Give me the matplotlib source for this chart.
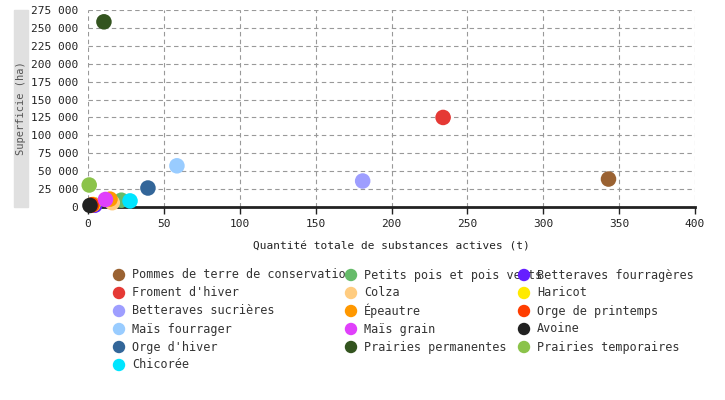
import matplotlib

matplotlib.use("Agg")
import matplotlib.pyplot as plt  # noqa: E402
from matplotlib.ticker import FuncFormatter  # noqa: E402

cultures = [
    "Pommes de terre de conservation", "Petits pois et pois verts", "Betteraves fourragères",
    "Froment d'hiver", "Colza", "Haricot",
    "Betteraves sucrières", "Épeautre", "Orge de printemps",
    "Maïs fourrager", "Maïs grain", "Avoine",
    "Orge d'hiver", "Prairies permanentes", "Prairies temporaires",
    "Chicorée",
]
substances_t = [343, 22, 4.5, 234, 16, 3.3, 181, 14.5, 2.6, 58.6, 11.5, 1.3, 39.5, 10.5, 0.8, 27.7]
superficie_ha = [39000, 9500, 2500, 125000, 6000, 3500, 36300, 11000, 3000, 57500, 10500, 2200, 26500, 258500, 30700, 8500]
couleurs = [
    "#9a6232", "#66bb6a", "#651fff",
    "#e53935", "#ffcc80", "#ffea00",
    "#9e9eff", "#ff9800", "#ff3d00",
    "#99ccff", "#e040fb", "#212121",
    "#336699", "#33541f", "#8bc34a",
    "#00e5ff",
]

W, H = 725, 400
MONO = "DejaVu Sans Mono"

fig = plt.figure(figsize=(W / 100, H / 100), dpi=100)
ax = fig.add_axes([88 / W, (H - 207) / H, (695 - 88) / W, (207 - 10) / H])

for x, y, c in zip(substances_t, superficie_ha, couleurs):
    ax.scatter(x, y, s=125, color=c, edgecolors="none", zorder=3, clip_on=False)

ax.set_xlim(0, 400)
ax.set_ylim(0, 275000)
ax.set_xticks(range(0, 401, 50))
ax.set_yticks(range(0, 275001, 25000))
ax.yaxis.set_major_formatter(FuncFormatter(lambda v, _: f"{int(v):,}".replace(",", " ")))
ax.grid(True, ls=(0, (4, 3)), color="#999999", lw=0.8)
ax.set_axisbelow(True)
for side in ("top", "left", "right"):
    ax.spines[side].set_visible(False)
ax.spines["bottom"].set_linewidth(2)
ax.spines["bottom"].set_color("#222222")
ax.tick_params(axis="y", length=0, pad=7, labelsize=8)
ax.tick_params(axis="x", length=5, width=1, labelsize=8, color="#222222")
for lab in ax.get_xticklabels() + ax.get_yticklabels():
    lab.set_family(MONO)
    lab.set_color("#222222")
ax.set_xlabel("Quantité totale de substances actives (t)", family=MONO, fontsize=8,
              color="#222222", labelpad=9)

# y label in a grey band
fig.patches.append(plt.Rectangle((14 / W, (H - 207) / H), 14 / W, (207 - 10) / H,
                                 transform=fig.transFigure, color="#e0e0e0", zorder=0))
fig.text(21 / W, (H - 108) / H, "Superficie (ha)", rotation=90, ha="center", va="center",
         family=MONO, fontsize=7.5, color="#555555")

# legend: three fixed-width columns, filled row by row
lax = fig.add_axes([0, 0, 1, 1])
lax.set_xlim(0, W)
lax.set_ylim(H, 0)
lax.axis("off")
col_x = [119, 351, 524]
row_y0, row_dy = 275, 18
for i, (name, c) in enumerate(zip(cultures, couleurs)):
    cx = col_x[i % 3]
    cy = row_y0 + row_dy * (i // 3)
    lax.text(cx + 13, cy, name, va="center", ha="left", family=MONO, fontsize=8.5, color="#333333")
    lax.scatter(cx, cy, s=80, color=c, edgecolors="none", zorder=3)

fig.savefig("out.png", dpi=100)
